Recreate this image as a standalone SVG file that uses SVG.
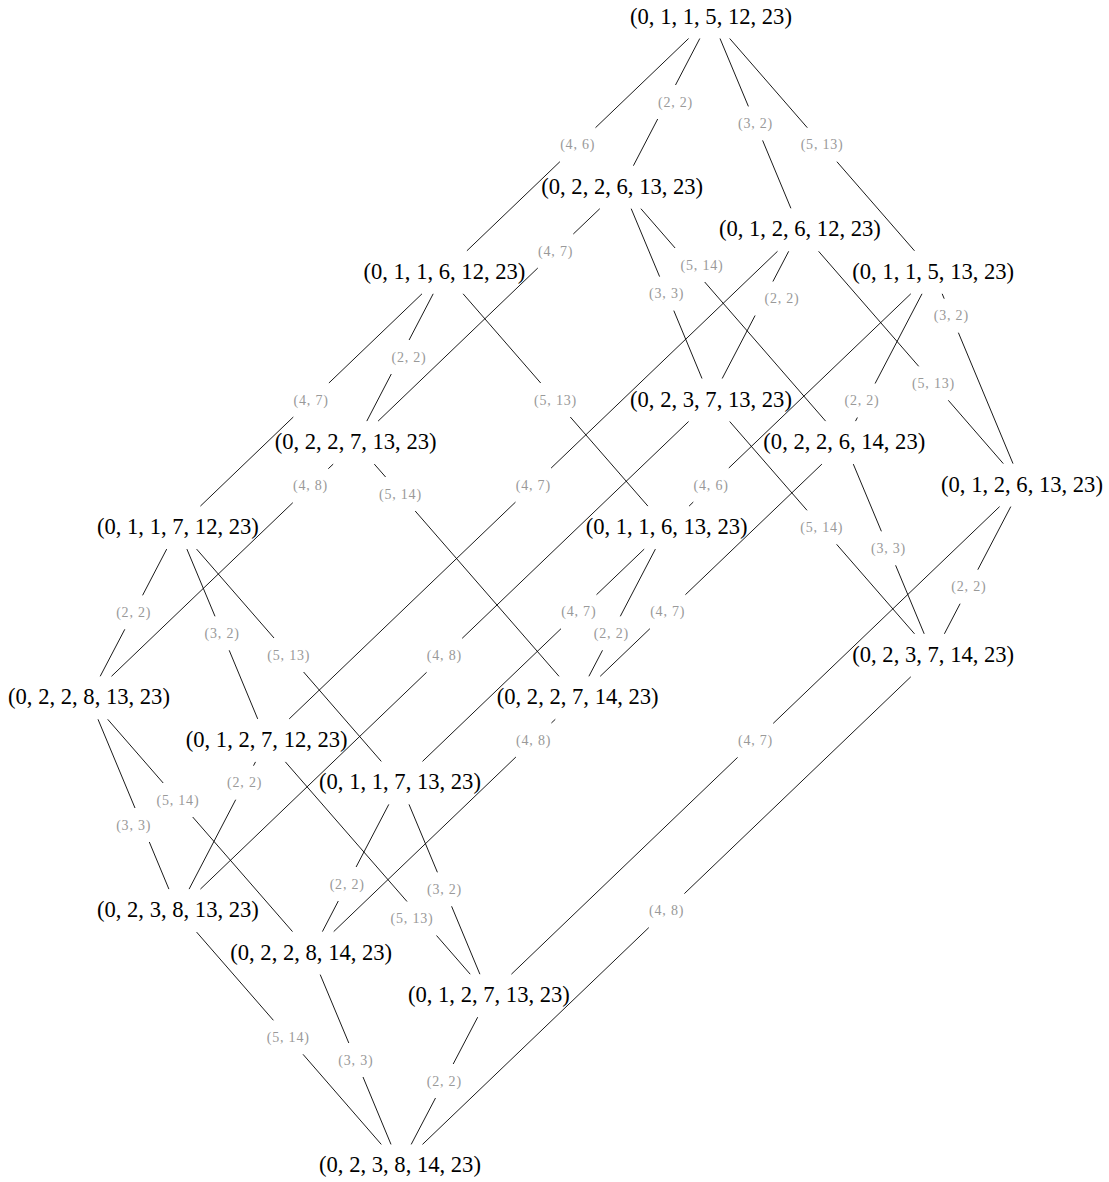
<svg xmlns="http://www.w3.org/2000/svg" width="1109" height="1182" viewBox="0 0 1109 1182">
<style>
.n{font-family:"Liberation Serif","Times New Roman",serif;font-size:22.6px;fill:#000;text-anchor:middle}
.l{font-family:"Liberation Serif","Times New Roman",serif;font-size:14px;fill:#999;text-anchor:middle;letter-spacing:0.8px}
.e{stroke:#000;stroke-width:0.9;fill:none}
</style>
<rect width="1109" height="1182" fill="#fff"/>
<g id="connectors">
<g id="e1"><path class="e" d="M699.8,38.5L675.5,85M657.7,119L633.4,165.7"/><text class="l" x="675.5" y="107">(2, 2)</text></g>
<g id="e2"><path class="e" d="M720,38.5L748.4,106.4M762.6,140.4L790.9,208.3"/><text class="l" x="755.5" y="127.9">(3, 2)</text></g>
<g id="e3"><path class="e" d="M688.6,38.5L595.5,127.7M559.9,161.7L466.9,250.8"/><text class="l" x="577.7" y="149.2">(4, 6)</text></g>
<g id="e4"><path class="e" d="M729.7,38.5L807.3,127.7M836.9,161.7L914.5,250.8"/><text class="l" x="822.1" y="149.2">(5, 13)</text></g>
<g id="e5"><path class="e" d="M631.2,208.7L659.6,276.6M673.8,310.6L702,378.5"/><text class="l" x="666.6" y="298.1">(3, 3)</text></g>
<g id="e6"><path class="e" d="M599.8,208.7L573.3,234M537.8,268L378.1,421.1"/><text class="l" x="555.6" y="255.5">(4, 7)</text></g>
<g id="e7"><path class="e" d="M640.9,208.7L675.1,248M704.7,282L825.6,421.1"/><text class="l" x="702" y="269.5">(5, 14)</text></g>
<g id="e8"><path class="e" d="M788.7,251.3L772.9,281.5M755.1,315.5L722.2,378.5"/><text class="l" x="782" y="303">(2, 2)</text></g>
<g id="e9"><path class="e" d="M777.5,251.3L551.1,468.1M515.5,502.1L289.2,718.9"/><text class="l" x="533.3" y="489.6">(4, 7)</text></g>
<g id="e10"><path class="e" d="M818.6,251.3L918.7,366.3M948.3,400.3L1003.3,463.6"/><text class="l" x="933.5" y="387.8">(5, 13)</text></g>
<g id="e11"><path class="e" d="M433.2,293.8L409.1,340M391.3,374L366.8,421.1"/><text class="l" x="409" y="361.5">(2, 2)</text></g>
<g id="e12"><path class="e" d="M422,293.8L328.9,383M293.3,417L200.4,506.1"/><text class="l" x="311.1" y="404.5">(4, 7)</text></g>
<g id="e13"><path class="e" d="M463.1,293.8L540.7,383M570.3,417L647.9,506.1"/><text class="l" x="555.5" y="404.5">(5, 13)</text></g>
<g id="e14"><path class="e" d="M922,293.8L875.1,383.5M857.4,417.5L855.5,421.1"/><text class="l" x="862" y="405">(2, 2)</text></g>
<g id="e15"><path class="e" d="M942.2,293.8L944.2,298.7M958.4,332.7L1013,463.6"/><text class="l" x="951.3" y="320.2">(3, 2)</text></g>
<g id="e16"><path class="e" d="M910.8,293.8L728.8,468M693.3,502L689.1,506.1"/><text class="l" x="711.1" y="489.5">(4, 6)</text></g>
<g id="e17"><path class="e" d="M688.6,421.5L462.2,638.3M426.6,672.3L200.4,889.1"/><text class="l" x="444.4" y="659.8">(4, 8)</text></g>
<g id="e18"><path class="e" d="M729.7,421.5L807,510.3M836.6,544.3L914.5,633.8"/><text class="l" x="821.8" y="531.8">(5, 14)</text></g>
<g id="e19"><path class="e" d="M333.2,464.1L328.3,468.7M292.8,502.7L111.5,676.3"/><text class="l" x="310.5" y="490.2">(4, 8)</text></g>
<g id="e20"><path class="e" d="M374.3,464.1L385.6,477M415.2,511L559,676.3"/><text class="l" x="400.4" y="498.5">(5, 14)</text></g>
<g id="e21"><path class="e" d="M853.3,464.1L881.4,531.3M895.6,565.3L924.2,633.8"/><text class="l" x="888.5" y="552.8">(3, 3)</text></g>
<g id="e22"><path class="e" d="M821.9,464.1L685.4,594.7M649.9,628.7L600.2,676.3"/><text class="l" x="667.7" y="616.2">(4, 7)</text></g>
<g id="e23"><path class="e" d="M1010.8,506.6L977.8,569.7M960.1,603.7L944.4,633.8"/><text class="l" x="968.9" y="591.2">(2, 2)</text></g>
<g id="e24"><path class="e" d="M999.6,506.6L773.2,723.4M737.6,757.4L511.4,974.2"/><text class="l" x="755.5" y="744.9">(4, 7)</text></g>
<g id="e25"><path class="e" d="M166.7,549.1L142.6,595.3M124.8,629.3L100.2,676.3"/><text class="l" x="133.7" y="616.8">(2, 2)</text></g>
<g id="e26"><path class="e" d="M186.9,549.1L215,616.3M229.2,650.3L257.7,718.9"/><text class="l" x="222.1" y="637.8">(3, 2)</text></g>
<g id="e27"><path class="e" d="M196.6,549.1L274,638M303.6,672L381.3,761.4"/><text class="l" x="288.8" y="659.5">(5, 13)</text></g>
<g id="e28"><path class="e" d="M655.4,549.1L620.3,616.3M602.5,650.3L588.9,676.3"/><text class="l" x="611.4" y="637.8">(2, 2)</text></g>
<g id="e29"><path class="e" d="M644.2,549.1L596.5,594.7M561,628.7L422.5,761.4"/><text class="l" x="578.8" y="616.2">(4, 7)</text></g>
<g id="e30"><path class="e" d="M910.8,676.8L684.4,893.6M648.8,927.6L422.5,1144.4"/><text class="l" x="666.6" y="915.1">(4, 8)</text></g>
<g id="e31"><path class="e" d="M98,719.3L135,808M149.3,842L168.9,889.1"/><text class="l" x="133.7" y="829.5">(3, 3)</text></g>
<g id="e32"><path class="e" d="M107.7,719.3L163.2,783M192.7,817L292.5,931.6"/><text class="l" x="177.9" y="804.5">(5, 14)</text></g>
<g id="e33"><path class="e" d="M555.3,719.3L551.4,723M515.9,757L333.7,931.6"/><text class="l" x="533.6" y="744.5">(4, 8)</text></g>
<g id="e34"><path class="e" d="M255.5,761.9L253.5,765.7M235.7,799.7L189.1,889.1"/><text class="l" x="244.6" y="787.2">(2, 2)</text></g>
<g id="e35"><path class="e" d="M285.4,761.9L407,901.5M436.5,935.5L470.2,974.2"/><text class="l" x="412" y="923">(5, 13)</text></g>
<g id="e36"><path class="e" d="M388.8,804.4L356.1,867M338.3,901L322.4,931.6"/><text class="l" x="347.2" y="888.5">(2, 2)</text></g>
<g id="e37"><path class="e" d="M409,804.4L437.4,872.3M451.6,906.3L479.9,974.2"/><text class="l" x="444.5" y="893.8">(3, 2)</text></g>
<g id="e38"><path class="e" d="M196.6,932.1L273.4,1020.3M303,1054.3L381.3,1144.4"/><text class="l" x="288.2" y="1041.8">(5, 14)</text></g>
<g id="e39"><path class="e" d="M320.2,974.6L348.8,1043M363,1077L391,1144.4"/><text class="l" x="355.9" y="1064.5">(3, 3)</text></g>
<g id="e40"><path class="e" d="M477.7,1017.2L453.2,1064M435.5,1098L411.2,1144.4"/><text class="l" x="444.3" y="1085.5">(2, 2)</text></g>
</g>
<g id="n1"><text class="n" x="711" y="23.5">(0, 1, 1, 5, 12, 23)</text></g>
<g id="n2"><text class="n" x="622.2" y="193.7">(0, 2, 2, 6, 13, 23)</text></g>
<g id="n3"><text class="n" x="799.9" y="236.3">(0, 1, 2, 6, 12, 23)</text></g>
<g id="n4"><text class="n" x="444.4" y="278.8">(0, 1, 1, 6, 12, 23)</text></g>
<g id="n5"><text class="n" x="933.2" y="278.8">(0, 1, 1, 5, 13, 23)</text></g>
<g id="n6"><text class="n" x="711" y="406.5">(0, 2, 3, 7, 13, 23)</text></g>
<g id="n7"><text class="n" x="355.6" y="449.1">(0, 2, 2, 7, 13, 23)</text></g>
<g id="n8"><text class="n" x="844.3" y="449.1">(0, 2, 2, 6, 14, 23)</text></g>
<g id="n9"><text class="n" x="1022" y="491.6">(0, 1, 2, 6, 13, 23)</text></g>
<g id="n10"><text class="n" x="177.9" y="534.1">(0, 1, 1, 7, 12, 23)</text></g>
<g id="n11"><text class="n" x="666.6" y="534.1">(0, 1, 1, 6, 13, 23)</text></g>
<g id="n12"><text class="n" x="933.2" y="661.8">(0, 2, 3, 7, 14, 23)</text></g>
<g id="n13"><text class="n" x="89" y="704.3">(0, 2, 2, 8, 13, 23)</text></g>
<g id="n14"><text class="n" x="577.7" y="704.3">(0, 2, 2, 7, 14, 23)</text></g>
<g id="n15"><text class="n" x="266.7" y="746.9">(0, 1, 2, 7, 12, 23)</text></g>
<g id="n16"><text class="n" x="400" y="789.4">(0, 1, 1, 7, 13, 23)</text></g>
<g id="n17"><text class="n" x="177.9" y="917.1">(0, 2, 3, 8, 13, 23)</text></g>
<g id="n18"><text class="n" x="311.2" y="959.6">(0, 2, 2, 8, 14, 23)</text></g>
<g id="n19"><text class="n" x="488.9" y="1002.2">(0, 1, 2, 7, 13, 23)</text></g>
<g id="n20"><text class="n" x="400" y="1172.4">(0, 2, 3, 8, 14, 23)</text></g>
</svg>
